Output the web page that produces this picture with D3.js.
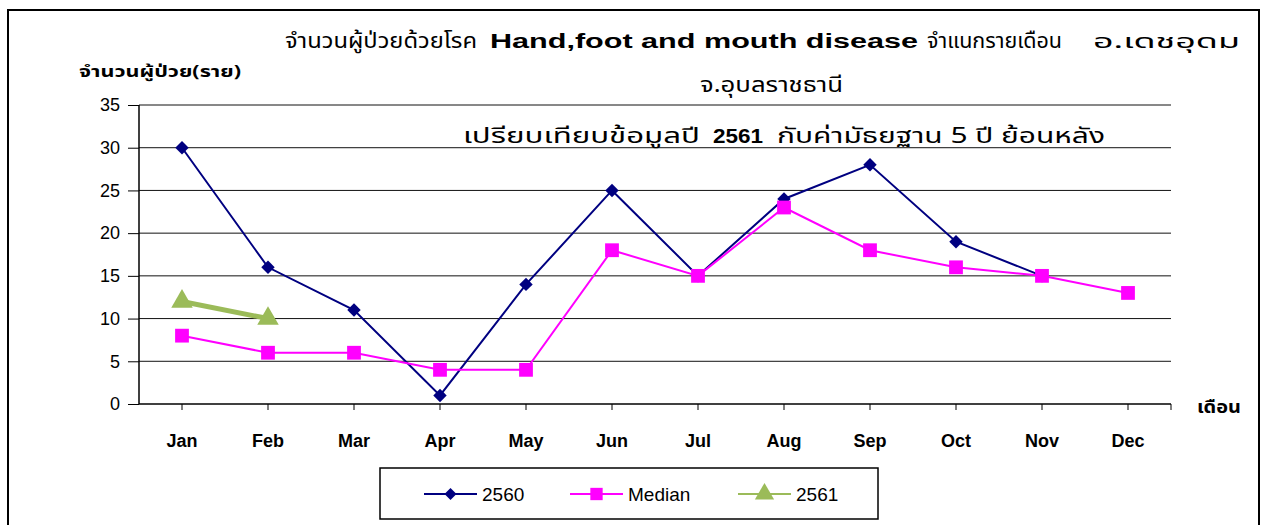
<!DOCTYPE html>
<html>
<head>
<meta charset="utf-8">
<script src="https://cdn.jsdelivr.net/npm/d3@7"></script>
<style>
  body { margin: 0; background: #fff; }
  svg { display: block; }
</style>
</head>
<body>
<div id="chart"></div>
<script>
// ข้อมูล
const months = ["Jan", "Feb", "Mar", "Apr", "May", "Jun", "Jul", "Aug", "Sep", "Oct", "Nov", "Dec"];
const cases2560 = [30, 16, 11, 1, 14, 25, 15, 24, 28, 19, 15, null];
const median5y = [8, 6, 6, 4, 4, 18, 15, 23, 18, 16, 15, 13];
const cases2561 = [12, 10];
const yTicks = [0, 5, 10, 15, 20, 25, 30, 35];

const W = 1263, H = 525;
const thai = "'Noto Sans Thai', 'Tlwg Typo', Garuda, Loma, 'Noto Sans', sans-serif";
const latin = "'Liberation Sans', Arial, sans-serif";

const svg = d3.select("#chart").append("svg").attr("width", W).attr("height", H);

// cadre
svg.append("rect")
  .attr("x", 8).attr("y", 10).attr("width", 1251).attr("height", 530)
  .attr("fill", "#fff").attr("stroke", "#000").attr("stroke-width", 2);

// echelles
const x = d3.scaleBand().domain(months).range([139, 1171]);
const y = d3.scaleLinear().domain([0, 35]).range([404, 105]);
const cx = m => x(m) + x.bandwidth() / 2;

// grille
svg.append("g").selectAll("line").data(yTicks.filter(d => d > 0)).enter().append("line")
  .attr("x1", 139).attr("x2", 1171)
  .attr("y1", d => y(d)).attr("y2", d => y(d))
  .attr("stroke", "#111").attr("stroke-width", 1);

// axe y
const yAxis = svg.append("g").attr("transform", "translate(139,0)")
  .call(d3.axisLeft(y).tickValues(yTicks).tickSize(11).tickPadding(8));
yAxis.select(".domain").attr("stroke", "#000").attr("stroke-width", 1.5).attr("d", "M0,105V404");
yAxis.selectAll("text").attr("font-family", latin).attr("font-size", 18).attr("fill", "#000");

// axe x (ticks au centre des mois)
const xAxis = svg.append("g").attr("transform", "translate(0,404)")
  .call(d3.axisBottom(x).tickSize(6).tickPadding(24));
xAxis.select(".domain").attr("d", "M139,0H1171").attr("stroke", "#000").attr("stroke-width", 1.5);
xAxis.selectAll("text").attr("font-family", latin).attr("font-size", 18)
  .attr("font-weight", "bold").attr("fill", "#000");
xAxis.append("line").attr("x1", 1171).attr("x2", 1171).attr("y1", 0).attr("y2", 6).attr("stroke", "#000");

// series
const series = [
  { name: "2560", values: cases2560, color: "#000080", width: 2, shape: d3.symbolSquare, size: 90, rot: 45 },
  { name: "Median", values: median5y, color: "#FF00FF", width: 2, shape: d3.symbolSquare, size: 190, rot: 0 },
  { name: "2561", values: cases2561, color: "#9BBB59", width: 5, shape: d3.symbolTriangle, size: 200, rot: 0 }
];

const line = d3.line()
  .defined(d => d.v != null)
  .x(d => cx(d.m))
  .y(d => y(d.v));

series.forEach(s => {
  const pts = s.values.map((v, i) => ({ m: months[i], v }));
  svg.append("path").datum(pts)
    .attr("d", line).attr("fill", "none")
    .attr("stroke", s.color).attr("stroke-width", s.width);
  svg.append("g").selectAll("path").data(pts.filter(d => d.v != null)).enter().append("path")
    .attr("d", d3.symbol().type(s.shape).size(s.size))
    .attr("transform", d => `translate(${cx(d.m)},${y(d.v)}) rotate(${s.rot})`)
    .attr("fill", s.color);
});

// titres (texte etire comme dans l'original)
function txt(str, xPos, yPos, len, font, size, weight) {
  return svg.append("text")
    .attr("x", xPos).attr("y", yPos)
    .attr("font-family", font).attr("font-size", size)
    .attr("font-weight", weight || "normal").attr("fill", "#000")
    .attr("textLength", len).attr("lengthAdjust", "spacingAndGlyphs")
    .text(str);
}

txt("จำนวนผู้ป่วยด้วยโรค", 285, 48, 192, thai, 21);
txt("Hand,foot and mouth disease", 490, 48, 428, latin, 20, "bold");
txt("จำแนกรายเดือน", 927, 48, 135, thai, 21);
txt("อ.เดชอุดม", 1093, 48, 147, thai, 20);

txt("จ.อุบลราชธานี", 700, 92, 143, thai, 21);

txt("เปรียบเทียบข้อมูลปี", 463, 143, 237, thai, 21);
txt("2561", 713, 143, 50, latin, 20, "bold");
txt("กับค่ามัธยฐาน 5 ปี ย้อนหลัง", 777, 143, 328, thai, 21);

txt("จำนวนผู้ป่วย(ราย)", 79, 77, 162, thai, 16, "bold");
txt("เดือน", 1197, 413, 44, thai, 17, "bold");

// legende
const leg = svg.append("g");
leg.append("rect").attr("x", 380).attr("y", 468).attr("width", 498).attr("height", 51)
  .attr("fill", "#fff").attr("stroke", "#000").attr("stroke-width", 1.5);
const legX = [424, 570, 738];
series.forEach((s, i) => {
  const g = leg.append("g").attr("transform", `translate(${legX[i]},494)`);
  g.append("line").attr("x1", 0).attr("x2", 53).attr("stroke", s.color).attr("stroke-width", 2);
  g.append("path").attr("d", d3.symbol().type(s.shape).size(s.size * 0.8))
    .attr("transform", `translate(26.5,0) rotate(${s.rot})`).attr("fill", s.color);
  g.append("text").attr("x", 58).attr("y", 7)
    .attr("font-family", latin).attr("font-size", 19).attr("fill", "#000").text(s.name);
});
</script>
</body>
</html>
